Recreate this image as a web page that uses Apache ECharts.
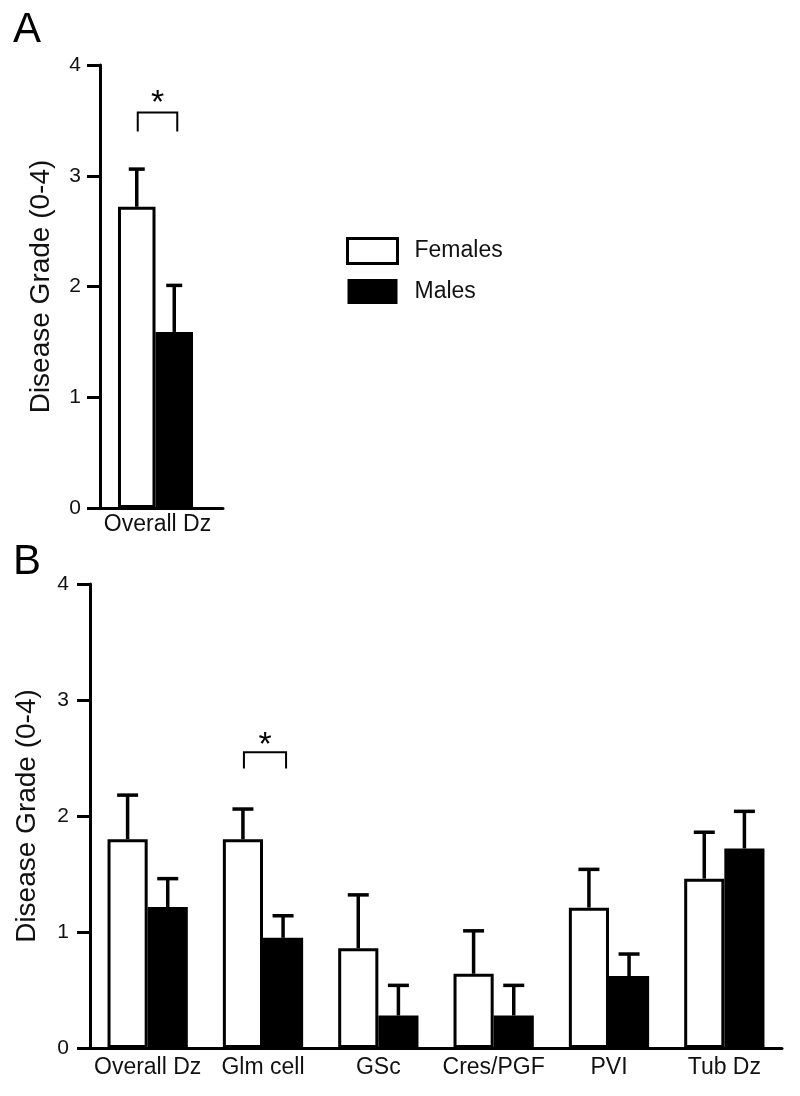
<!DOCTYPE html>
<html>
<head>
<meta charset="utf-8">
<script src="https://cdn.jsdelivr.net/npm/echarts@6/dist/echarts.min.js"></script>
<style>html,body{margin:0;padding:0;background:#fff;}#chart{width:800px;height:1096px;}</style>
</head>
<body>
<div id="chart"></div>
<script>
// ---- Data ----
const categoriesA = ['Overall Dz'];
const femalesA = [2.72];
const femalesAErr = [3.06];
const malesA = [1.59];
const malesAErr = [2.01];
const sigCatA = [0];
const sigTopA = [3.57];
const sigLegA = [3.40];
const sigStarA = [3.73];

const categoriesB = ['Overall Dz', 'Glm cell', 'GSc', 'Cres/PGF', 'PVI', 'Tub Dz'];
const femalesB = [1.80, 1.80, 0.86, 0.64, 1.21, 1.46];
const femalesBErr = [2.18, 2.06, 1.32, 1.01, 1.54, 1.86];
const malesB = [1.215, 0.95, 0.28, 0.28, 0.62, 1.72];
const malesBErr = [1.46, 1.14, 0.54, 0.54, 0.81, 2.04];
const sigCatB = [1];
const sigTopB = [2.55];
const sigLegB = [2.41];
const sigStarB = [2.68];

const yTicks = [0, 1, 2, 3, 4];
const yName = 'Disease Grade (0-4)';

// ---- Layout helpers ----
const FONT = 'Liberation Sans, Arial, Helvetica, sans-serif';
const widthsA = [0.305, 0.305, 0.0975];
const widthsB = [0.348, 0.348];

function slotCenter(api, idx, widths, slot) {
  const band = api.size([1, 0])[0];
  const total = widths.reduce((a, b) => a + b, 0);
  let start = api.coord([idx, 0])[0] - band * total / 2;
  for (let i = 0; i < slot; i++) start += band * widths[i];
  return start + band * widths[slot] / 2;
}

function errRender(widths, slot, capW) {
  return function (params, api) {
    const idx = api.value(0);
    const cx = slotCenter(api, idx, widths, slot);
    const y0 = api.coord([idx, api.value(1)])[1];
    const y1 = api.coord([idx, api.value(2)])[1];
    const st = { stroke: '#000', lineWidth: 3.5 };
    return {
      type: 'group',
      children: [
        { type: 'line', shape: { x1: cx, y1: y0, x2: cx, y2: y1 }, style: st },
        { type: 'line', shape: { x1: cx - capW / 2, y1: y1, x2: cx + capW / 2, y2: y1 }, style: st }
      ]
    };
  };
}

function sigRender(widths) {
  return function (params, api) {
    const idx = api.value(0);
    const xf = slotCenter(api, idx, widths, 0) + 1;
    const xm = slotCenter(api, idx, widths, 1) + 3;
    const yTop = api.coord([idx, api.value(1)])[1];
    const yLeg = api.coord([idx, api.value(2)])[1];
    const yStar = api.coord([idx, api.value(3)])[1];
    return {
      type: 'group',
      children: [
        { type: 'polyline', shape: { points: [[xf, yLeg], [xf, yTop], [xm, yTop], [xm, yLeg]] },
          style: { stroke: '#000', lineWidth: 2, fill: null } },
        { type: 'text', style: { text: '*', x: (xf + xm) / 2, y: yStar + 9, align: 'center', verticalAlign: 'middle',
          font: '34px ' + FONT, fill: '#000' } }
      ]
    };
  };
}

function yAxisCfg(gridIndex, nameGap, margin) {
  return {
    type: 'value', gridIndex: gridIndex, min: yTicks[0], max: yTicks[yTicks.length - 1], interval: 1,
    name: yName, nameLocation: 'middle', nameGap: nameGap,
    nameTextStyle: { fontSize: 28, color: '#111', fontFamily: FONT },
    axisLine: { show: true, lineStyle: { color: '#000', width: 3 } },
    axisTick: { show: true, inside: false, length: 13, lineStyle: { color: '#000', width: 3 } },
    axisLabel: { margin: margin, fontSize: 21, color: '#111', fontFamily: FONT },
    splitLine: { show: false }
  };
}

function xAxisCfg(gridIndex, cats, margin, pad) {
  return {
    type: 'category', gridIndex: gridIndex, data: cats,
    axisLine: { show: true, onZero: false, lineStyle: { color: '#000', width: 3 } },
    axisTick: { show: false },
    axisLabel: { margin: margin, fontSize: 23, color: '#111', fontFamily: FONT, padding: pad, interval: 0 },
    splitLine: { show: false }
  };
}

const femaleStyle = { color: '#fff', borderColor: '#000', borderWidth: 3 };
const maleStyle = { color: '#000', borderColor: '#000', borderWidth: 0 };

const option = {
  backgroundColor: '#fff',
  animation: false,
  title: [
    { text: 'A', left: 13, top: 9, padding: 0, textStyle: { fontSize: 42, fontWeight: 'normal', color: '#000', fontFamily: FONT } },
    { text: 'B', left: 13, top: 541, padding: 0, textStyle: { fontSize: 42, fontWeight: 'normal', color: '#000', fontFamily: FONT } }
  ],
  legend: {
    orient: 'vertical', left: 346, top: 237, padding: 0,
    itemWidth: 50, itemHeight: 25, itemGap: 14, icon: 'rect', selectedMode: false,
    textStyle: { fontSize: 23, color: '#111', fontFamily: FONT, padding: [0, 0, 0, 12] },
    data: [
      { name: 'Females', itemStyle: { color: '#fff', borderColor: '#000', borderWidth: 3 } },
      { name: 'Males', itemStyle: { color: '#000', borderColor: '#000', borderWidth: 0 } }
    ]
  },
  grid: [
    { left: 100, top: 65, width: 123, height: 443 },
    { left: 90, top: 584, width: 692, height: 464 }
  ],
  xAxis: [
    xAxisCfg(0, categoriesA, 5, [0, 8, 0, 0]),
    xAxisCfg(1, categoriesB, 8, [0, 0, 0, 0])
  ],
  yAxis: [
    yAxisCfg(0, 45, 19),
    yAxisCfg(1, 49, 21)
  ],
  series: [
    { name: 'Females', type: 'bar', xAxisIndex: 0, yAxisIndex: 0, data: femalesA, barWidth: (widthsA[0] * 100) + '%', barGap: '0%', itemStyle: femaleStyle },
    { name: 'Males', type: 'bar', xAxisIndex: 0, yAxisIndex: 0, data: malesA, barWidth: (widthsA[1] * 100) + '%', barGap: '0%', itemStyle: maleStyle },
    { name: 'spacer', type: 'bar', xAxisIndex: 0, yAxisIndex: 0, data: [], barWidth: (widthsA[2] * 100) + '%', barGap: '0%', silent: true },
    { name: 'Females', type: 'bar', xAxisIndex: 1, yAxisIndex: 1, data: femalesB, barWidth: (widthsB[0] * 100) + '%', barGap: '0%', itemStyle: femaleStyle },
    { name: 'Males', type: 'bar', xAxisIndex: 1, yAxisIndex: 1, data: malesB, barWidth: (widthsB[1] * 100) + '%', barGap: '0%', itemStyle: maleStyle },
    { type: 'custom', xAxisIndex: 0, yAxisIndex: 0, renderItem: errRender(widthsA, 0, 16), data: femalesA.map((v, i) => [i, v, femalesAErr[i]]), z: 5 },
    { type: 'custom', xAxisIndex: 0, yAxisIndex: 0, renderItem: errRender(widthsA, 1, 16), data: malesA.map((v, i) => [i, v, malesAErr[i]]), z: 5 },
    { type: 'custom', xAxisIndex: 1, yAxisIndex: 1, renderItem: errRender(widthsB, 0, 21), data: femalesB.map((v, i) => [i, v, femalesBErr[i]]), z: 5 },
    { type: 'custom', xAxisIndex: 1, yAxisIndex: 1, renderItem: errRender(widthsB, 1, 21), data: malesB.map((v, i) => [i, v, malesBErr[i]]), z: 5 },
    { type: 'custom', xAxisIndex: 0, yAxisIndex: 0, renderItem: sigRender(widthsA), data: sigCatA.map((c, i) => [c, sigTopA[i], sigLegA[i], sigStarA[i]]), z: 5 },
    { type: 'custom', xAxisIndex: 1, yAxisIndex: 1, renderItem: sigRender(widthsB), data: sigCatB.map((c, i) => [c, sigTopB[i], sigLegB[i], sigStarB[i]]), z: 5 }
  ]
};

const chart = echarts.init(document.getElementById('chart'), null, { renderer: 'canvas' });
chart.setOption(option);
</script>
</body>
</html>
